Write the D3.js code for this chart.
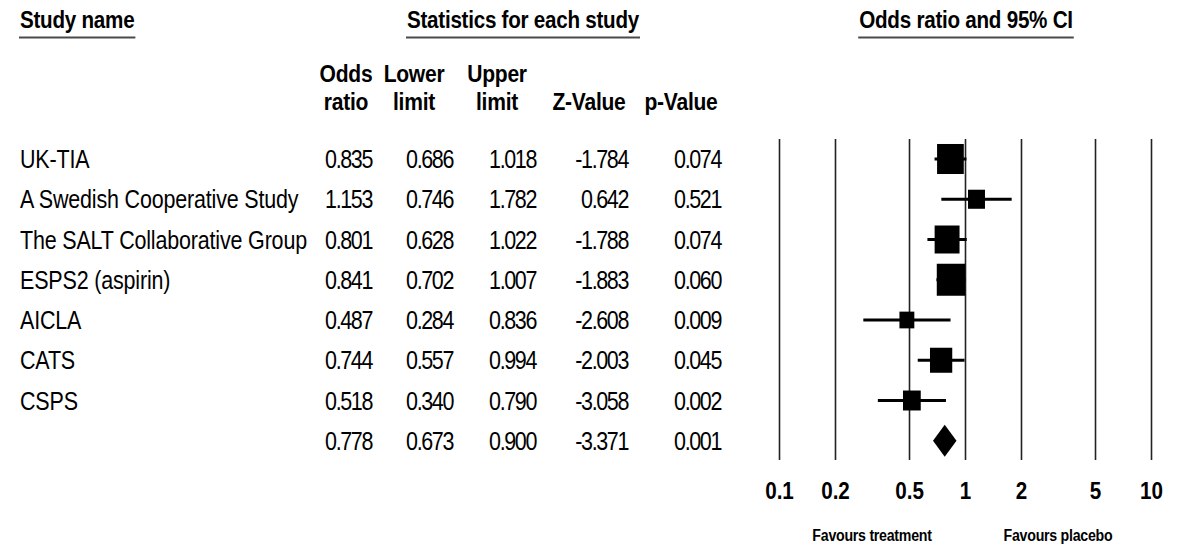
<!DOCTYPE html>
<html>
<head>
<meta charset="utf-8">
<script src="https://cdn.jsdelivr.net/npm/d3@7"></script>
<style>
html,body{margin:0;padding:0;background:#fff;}
svg{display:block;font-family:"Liberation Sans",Arial,sans-serif;}
</style>
</head>
<body>
<svg id="chart" width="1190" height="546"></svg>
<script>
// ---------------- data ----------------
const studyNames = ["UK-TIA", "A Swedish Cooperative Study", "The SALT Collaborative Group",
  "ESPS2 (aspirin)", "AICLA", "CATS", "CSPS"];
const oddsRatio  = [0.835, 1.153, 0.801, 0.841, 0.487, 0.744, 0.518];
const lowerLimit = [0.686, 0.746, 0.628, 0.702, 0.284, 0.557, 0.340];
const upperLimit = [1.018, 1.782, 1.022, 1.007, 0.836, 0.994, 0.790];
const zValue     = [-1.784, 0.642, -1.788, -1.883, -2.608, -2.003, -3.058];
const pValue     = [0.074, 0.521, 0.074, 0.060, 0.009, 0.045, 0.002];
const weights    = [20.6, 8.3, 17.9, 23.4, 6.4, 14.3, 9.1];   // relative weights (box size)

const summaryOR = 0.778, summaryLower = 0.673, summaryUpper = 0.900,
      summaryZ = -3.371, summaryP = 0.001;

const tickValues = [0.1, 0.2, 0.5, 1, 2, 5, 10];
const tickLabels = ["0.1", "0.2", "0.5", "1", "2", "5", "10"];

const headTop    = ["Odds", "Lower", "Upper", "", ""];
const headBottom = ["ratio", "limit", "limit", "Z-Value", "p-Value"];
const sectionTitles = ["Study name", "Statistics for each study", "Odds ratio and 95% CI"];
const favourLabels = ["Favours treatment", "Favours placebo"];

// ---------------- layout ----------------
const SX = 0.86;                       // horizontal condensation of the text
const svg = d3.select("#chart");
svg.append("rect").attr("width", 1190).attr("height", 546).attr("fill", "#fff");

const x = d3.scaleLog().domain([0.1, 10]).range([779, 1151]);
const nRows = studyNames.length + 1;
const y = d3.scaleLinear().domain([0, nRows - 1]).range([159, 440.75]);
const box = d3.scaleSqrt().domain([0, d3.max(weights)]).range([0, 32]);

const colEnds = [373, 454, 537, 629, 722];
const colCenters = [346, 414, 497, 589, 681];

function label(x0, y0, str, o = {}) {
  return svg.append("text")
    .attr("transform", `translate(${x0},${y0}) scale(${SX},1)`)
    .attr("text-anchor", o.anchor || "start")
    .attr("font-size", o.size || 25)
    .attr("font-weight", o.weight || "normal")
    .attr("letter-spacing", o.ls || 0)
    .attr("fill", "#000")
    .text(str);
}

// section titles with underline
const titlePos = [[20, "start"], [523, "middle"], [966, "middle"]];
sectionTitles.forEach((t, i) => {
  const [tx, anc] = titlePos[i];
  const node = label(tx, 28, t, {anchor: anc, size: 24, weight: "bold", ls: -0.3}).node();
  const w = node.getComputedTextLength() * SX;
  const x0 = anc === "start" ? tx : tx - w / 2;
  svg.append("line").attr("x1", x0 - 1).attr("x2", x0 + w + 1)
    .attr("y1", 37.5).attr("y2", 37.5)
    .attr("stroke", "#4a4a4a").attr("stroke-width", 2);
});

// column headers
headTop.forEach((t, i) => { if (t) label(colCenters[i], 82, t, {anchor: "middle", size: 24.5, weight: "bold", ls: -0.3}); });
headBottom.forEach((t, i) => label(colCenters[i], 110, t, {anchor: "middle", size: 24.5, weight: "bold", ls: -0.3}));

// table rows
const fmt = v => v.toFixed(3);
const rowsData = studyNames.map((n, i) => ({
  name: n, vals: [oddsRatio[i], lowerLimit[i], upperLimit[i], zValue[i], pValue[i]]
}));
rowsData.push({name: "", vals: [summaryOR, summaryLower, summaryUpper, summaryZ, summaryP]});

rowsData.forEach((r, i) => {
  const by = y(i) + 9;
  if (r.name) label(20, by, r.name, {size: 25, ls: -0.2});
  r.vals.forEach((v, j) => label(colEnds[j] - 1, by, fmt(v), {anchor: "end", size: 25, ls: -1.6}));
});

// vertical reference lines (axis gridlines)
const gTop = 139, gBot = 460;
const grid = svg.append("g").attr("transform", `translate(0,${gBot})`)
  .call(d3.axisBottom(x).tickValues(tickValues).tickSize(-(gBot - gTop)).tickFormat(""));
grid.select(".domain").remove();
grid.selectAll(".tick line").attr("stroke", "#222").attr("stroke-width", 1.6);

// axis labels
const axis = svg.append("g").attr("transform", "translate(0,499)")
  .call(d3.axisBottom(x).tickValues(tickValues).tickSize(0)
        .tickFormat((d, i) => tickLabels[i]));
axis.attr("font-family", null).attr("font-size", null);
axis.select(".domain").remove();
axis.selectAll(".tick text")
  .attr("y", 0).attr("dy", 0)
  .attr("transform", `scale(${SX},1)`)
  .attr("font-size", 24).attr("font-weight", "bold").attr("fill", "#000");

// confidence intervals
svg.append("g").selectAll("line").data(studyNames).join("line")
  .attr("x1", (d, i) => x(lowerLimit[i])).attr("x2", (d, i) => x(upperLimit[i]))
  .attr("y1", (d, i) => y(i)).attr("y2", (d, i) => y(i))
  .attr("stroke", "#000").attr("stroke-width", 3);

// boxes
svg.append("g").selectAll("rect").data(studyNames).join("rect")
  .attr("x", (d, i) => x(oddsRatio[i]) - box(weights[i]) * 0.89 / 2)
  .attr("y", (d, i) => y(i) - box(weights[i]) / 2)
  .attr("width", (d, i) => box(weights[i]) * 0.89)
  .attr("height", (d, i) => box(weights[i]))
  .attr("fill", "#000");

// summary diamond
const sy = y(nRows - 1), dh = 16;
svg.append("path")
  .attr("d", `M${x(summaryLower)},${sy} L${x(summaryOR)},${sy - dh} L${x(summaryUpper)},${sy} L${x(summaryOR)},${sy + dh} Z`)
  .attr("fill", "#000");

// favours labels
label(x(Math.pow(10, -0.5)), 541, favourLabels[0], {anchor: "middle", size: 16.5, weight: "bold", ls: -0.3});
label(x(Math.pow(10, 0.5)), 541, favourLabels[1], {anchor: "middle", size: 16.5, weight: "bold", ls: -0.3});
</script>
</body>
</html>
